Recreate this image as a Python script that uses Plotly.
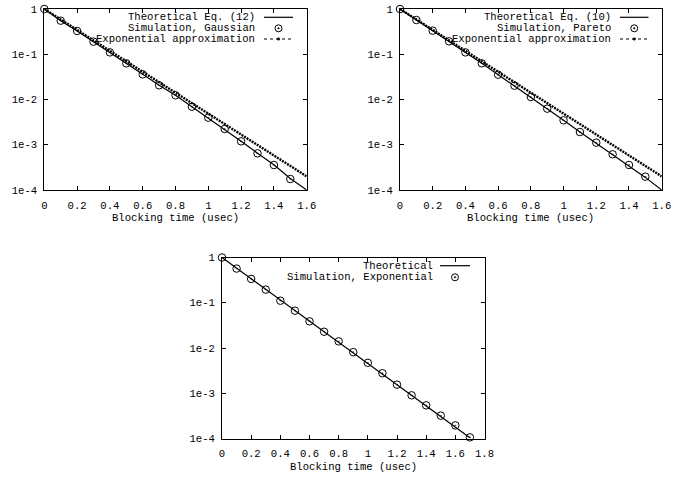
import plotly.graph_objects as go

# ---------------- data ----------------
x_theo1 = [0, 0.1, 0.2, 0.3, 0.4, 0.5, 0.6, 0.7, 0.8, 0.9, 1.0, 1.1, 1.2, 1.3, 1.4, 1.5, 1.6]
theo1 = [1, 0.552, 0.327, 0.19, 0.110, 0.063, 0.036, 0.0206, 0.0124, 0.0069, 0.0039,
         0.00222, 0.00120, 0.00065, 0.00036, 0.00018, 0.0001]
x_sim1 = [0, 0.1, 0.2, 0.3, 0.4, 0.5, 0.6, 0.7, 0.8, 0.9, 1.0, 1.1, 1.2, 1.3, 1.4, 1.5]
sim1 = [1, 0.552, 0.327, 0.19, 0.110, 0.063, 0.036, 0.0206, 0.0124, 0.00693, 0.00396,
        0.00223, 0.00119, 0.000646, 0.000357, 0.000175]
x_exp = [0, 0.1, 0.2, 0.3, 0.4, 0.5, 0.6, 0.7, 0.8, 0.9, 1.0, 1.1, 1.2, 1.3, 1.4, 1.5, 1.6]
exp1 = [1, 0.587, 0.345, 0.202, 0.119, 0.0698, 0.041, 0.0241, 0.01413, 0.0083, 0.00487,
        0.00286, 0.00168, 0.000986, 0.000579, 0.00034, 0.0002]

x_theo2 = [0, 0.1, 0.2, 0.3, 0.4, 0.5, 0.6, 0.7, 0.8, 0.9, 1.0, 1.1, 1.2, 1.3, 1.4, 1.5, 1.6]
theo2 = [1, 0.57, 0.332, 0.193, 0.110, 0.063, 0.0355, 0.0202, 0.0114, 0.0063, 0.00348,
         0.00192, 0.00108, 0.0006, 0.00034, 0.00019, 0.0001]
x_sim2 = [0, 0.1, 0.2, 0.3, 0.4, 0.5, 0.6, 0.7, 0.8, 0.9, 1.0, 1.1, 1.2, 1.3, 1.4, 1.5]
sim2 = [1, 0.571, 0.332, 0.193, 0.110, 0.063, 0.0353, 0.0202, 0.01136, 0.00627, 0.00347,
        0.00191, 0.00111, 0.000615, 0.000357, 0.000197]
exp2 = [1, 0.587, 0.345, 0.202, 0.119, 0.0698, 0.041, 0.0241, 0.01413, 0.0083, 0.00487,
        0.00286, 0.00168, 0.000986, 0.000579, 0.00034, 0.0002]

x_theo3 = [0, 0.1, 0.2, 0.3, 0.4, 0.5, 0.6, 0.7, 0.8, 0.9, 1.0, 1.1, 1.2, 1.3, 1.4, 1.5, 1.6, 1.7]
theo3 = [1, 0.582, 0.338, 0.197, 0.1146, 0.0667, 0.0388, 0.0226, 0.01313, 0.00764, 0.00445,
         0.00259, 0.0015, 0.000876, 0.00051, 0.000297, 0.000175, 0.000104]
x_sim3 = [0, 0.1, 0.2, 0.3, 0.4, 0.5, 0.6, 0.7, 0.8, 0.9, 1.0, 1.1, 1.2, 1.3, 1.4, 1.5, 1.6, 1.7]
sim3 = [1, 0.57, 0.336, 0.195, 0.111, 0.0668, 0.0388, 0.0229, 0.014, 0.0081, 0.0047,
        0.00277, 0.00155, 0.0009, 0.00054, 0.00032, 0.000195, 0.000106]

y_tickvals = [1, 0.1, 0.01, 0.001, 0.0001]
y_ticktext = ["1", "1e-1", "1e-2", "1e-3", "1e-4"]
x_title = "Blocking time (usec)"

FONT = "Liberation Mono, Courier New, monospace"
FS = 10.6
W, H = 684, 477

fig = go.Figure()

line_theo = dict(color="black", width=1.2)
line_exp = dict(color="black", width=2.4, dash="2px,1px")
mk = dict(symbol="circle-open-dot", size=7.5, color="black", line=dict(width=1, color="black"))

# panel 1
fig.add_trace(go.Scatter(x=x_theo1, y=theo1, mode="lines", line=line_theo, xaxis="x", yaxis="y", cliponaxis=False))
fig.add_trace(go.Scatter(x=x_sim1, y=sim1, mode="markers", marker=mk, xaxis="x", yaxis="y", cliponaxis=False))
fig.add_trace(go.Scatter(x=x_exp, y=exp1, mode="lines", line=line_exp, xaxis="x", yaxis="y", cliponaxis=False))
# panel 2
fig.add_trace(go.Scatter(x=x_theo2, y=theo2, mode="lines", line=line_theo, xaxis="x2", yaxis="y2", cliponaxis=False))
fig.add_trace(go.Scatter(x=x_sim2, y=sim2, mode="markers", marker=mk, xaxis="x2", yaxis="y2", cliponaxis=False))
fig.add_trace(go.Scatter(x=x_exp, y=exp2, mode="lines", line=line_exp, xaxis="x2", yaxis="y2", cliponaxis=False))
# panel 3
fig.add_trace(go.Scatter(x=x_theo3, y=theo3, mode="lines", line=line_theo, xaxis="x3", yaxis="y3", cliponaxis=False))
fig.add_trace(go.Scatter(x=x_sim3, y=sim3, mode="markers", marker=mk, xaxis="x3", yaxis="y3", cliponaxis=False))

def px_x(p):
    return p / W

def px_y(p):
    return 1 - p / H

panels = [
    dict(x0=44.3, x1=306.7, y0=9, y1=190, xmax=1.6),
    dict(x0=400, x1=661.7, y0=9, y1=190, xmax=1.6),
    dict(x0=222, x1=484.5, y0=257.5, y1=438.5, xmax=1.8),
]

layout = dict(
    width=W, height=H, autosize=False,
    margin=dict(l=0, r=0, t=0, b=0, pad=0, autoexpand=False),
    paper_bgcolor="white", plot_bgcolor="white",
    showlegend=False, hovermode=False,
    font=dict(family=FONT, size=FS, color="black"),
)

annotations = []
shapes = []
for i, p in enumerate(panels):
    sfx = "" if i == 0 else str(i + 1)
    layout["xaxis" + sfx] = dict(
        domain=[px_x(p["x0"]), px_x(p["x1"])],
        anchor="y" + sfx,
        range=[0, p["xmax"]], dtick=0.2, tick0=0,
        showline=True, linecolor="black", linewidth=1, mirror="ticks",
        ticks="inside", ticklen=4, tickcolor="black",
        showgrid=False, zeroline=False, automargin=False,
        ticklabelstandoff=5,
        tickfont=dict(family=FONT, size=FS, color="black"),
    )
    layout["yaxis" + sfx] = dict(
        domain=[px_y(p["y1"]), px_y(p["y0"])],
        anchor="x" + sfx,
        type="log", range=[-4, 0],
        tickvals=y_tickvals, ticktext=y_ticktext,
        showline=True, linecolor="black", linewidth=1, mirror="ticks",
        ticks="inside", ticklen=4, tickcolor="black",
        showgrid=False, zeroline=False, automargin=False,
        ticklabelstandoff=4,
        tickfont=dict(family=FONT, size=FS, color="black"),
    )
    annotations.append(dict(
        text=x_title, xref="paper", yref="paper",
        x=px_x((p["x0"] + p["x1"]) / 2), y=px_y(p["y1"] + 28.5),
        xanchor="center", yanchor="middle", showarrow=False,
        font=dict(family=FONT, size=FS, color="black"),
    ))

# legends (gnuplot style: right-aligned text, sample at right)
legends = [
    dict(text_right=256.7, s0=264, s1=293, rows=[17.3, 28.3, 39.0],
         labels=["Theoretical Eq. (12)", "Simulation, Gaussian", "Exponential approximation"],
         kinds=["line", "circle", "dots"]),
    dict(text_right=612.7, s0=620, s1=648.5, rows=[17.3, 28.3, 39.0],
         labels=["Theoretical Eq. (10)", "Simulation, Pareto", "Exponential approximation"],
         kinds=["line", "circle", "dots"]),
    dict(text_right=435, s0=440, s1=470, rows=[265.7, 277.3],
         labels=["Theoretical", "Simulation, Exponential"],
         kinds=["line", "circle"]),
]
for lg in legends:
    for yy, lab, kind in zip(lg["rows"], lg["labels"], lg["kinds"]):
        annotations.append(dict(
            text=lab, xref="paper", yref="paper",
            x=px_x(lg["text_right"]), y=px_y(yy),
            xanchor="right", yanchor="middle", showarrow=False,
            font=dict(family=FONT, size=FS, color="black"),
        ))
        xm = (lg["s0"] + lg["s1"]) / 2
        if kind == "line":
            shapes.append(dict(type="line", xref="paper", yref="paper",
                               x0=px_x(lg["s0"]), x1=px_x(lg["s1"]), y0=px_y(yy), y1=px_y(yy),
                               line=dict(color="black", width=1.2)))
        elif kind == "circle":
            r = 3.5
            shapes.append(dict(type="circle", xref="paper", yref="paper",
                               x0=px_x(xm - r), x1=px_x(xm + r), y0=px_y(yy + r), y1=px_y(yy - r),
                               line=dict(color="black", width=1)))
            r2 = 0.8
            shapes.append(dict(type="circle", xref="paper", yref="paper",
                               x0=px_x(xm - r2), x1=px_x(xm + r2), y0=px_y(yy + r2), y1=px_y(yy - r2),
                               fillcolor="black", line=dict(color="black", width=0.5)))
        else:
            shapes.append(dict(type="line", xref="paper", yref="paper",
                               x0=px_x(lg["s0"]), x1=px_x(lg["s1"]), y0=px_y(yy), y1=px_y(yy),
                               line=dict(color="black", width=1, dash="dot")))
            r2 = 1.3
            shapes.append(dict(type="circle", xref="paper", yref="paper",
                               x0=px_x(xm - r2), x1=px_x(xm + r2), y0=px_y(yy + r2), y1=px_y(yy - r2),
                               fillcolor="black", line=dict(color="black", width=0.5)))

layout["annotations"] = annotations
layout["shapes"] = shapes
fig.update_layout(**layout)

fig.write_html(
    "out.html",
    config={"displayModeBar": False, "staticPlot": True},
    post_script="document.body.style.margin='0';document.body.style.padding='0';document.body.style.overflow='hidden';",
)
